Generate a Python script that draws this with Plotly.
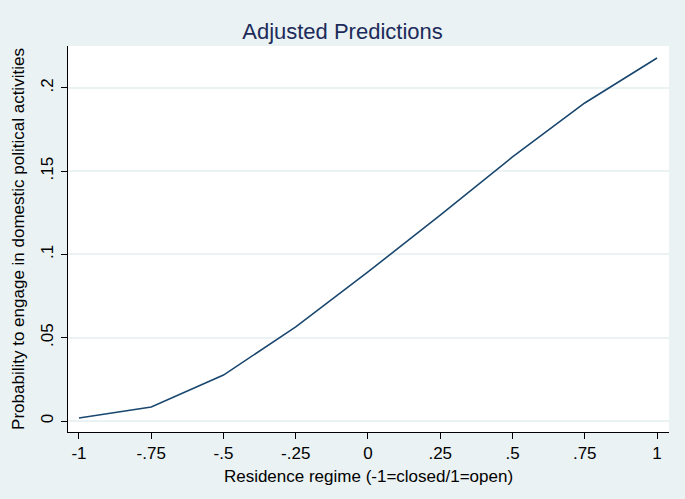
import plotly.graph_objects as go

regime = [-1, -0.75, -0.5, -0.25, 0, 0.25, 0.5, 0.75, 1]
prob = [0.0018, 0.0084, 0.0276, 0.0565, 0.0895, 0.1237, 0.1586, 0.1910, 0.2180]

x_ticks = [-1, -0.75, -0.5, -0.25, 0, 0.25, 0.5, 0.75, 1]
x_labels = ['-1', '-.75', '-.5', '-.25', '0', '.25', '.5', '.75', '1']
y_ticks = [0, 0.05, 0.1, 0.15, 0.2]
y_labels = ['0', '.05', '.1', '.15', '.2']

bg = '#EAF2F3'
navy = '#1A476F'

fig = go.Figure()
fig.add_trace(go.Scatter(x=regime, y=prob, mode='lines',
                         line=dict(color=navy, width=1.6), showlegend=False))

fig.update_layout(
    width=685, height=499,
    margin=dict(l=68, r=16, t=46, b=67),
    paper_bgcolor=bg, plot_bgcolor='white',
    font=dict(family='Liberation Sans, Arial, sans-serif', color='black'),
    title=dict(text='Adjusted Predictions', x=0.5, xref='container', xanchor='center',
               y=1 - 31 / 499, yref='container', yanchor='middle',
               font=dict(size=22, color='#1C2B5A')),
)
fig.update_xaxes(range=[-1.038, 1.0415], tickvals=x_ticks, ticktext=x_labels,
                 showgrid=False, zeroline=False, showline=True, linecolor='black', linewidth=1,
                 ticks='outside', ticklen=6, tickcolor='black', tickfont=dict(size=17),
                 title=dict(text='Residence regime (-1=closed/1=open)', font=dict(size=17), standoff=7))
fig.update_yaxes(range=[-0.0066, 0.2252], tickvals=y_ticks, ticktext=y_labels,
                 showgrid=True, gridcolor=bg, gridwidth=1.5, zeroline=False,
                 showline=True, linecolor='black', linewidth=1,
                 ticks='outside', ticklen=6, tickcolor='black', tickangle=-90, tickfont=dict(size=17),
                 ticklabelstandoff=1,
                 title=dict(text='Probability to engage in domestic political activities',
                            font=dict(size=17), standoff=9))

fig.write_html('out.html', config={'displayModeBar': False},
               post_script="document.body.style.margin='0';document.body.style.background='#EAF2F3';")
